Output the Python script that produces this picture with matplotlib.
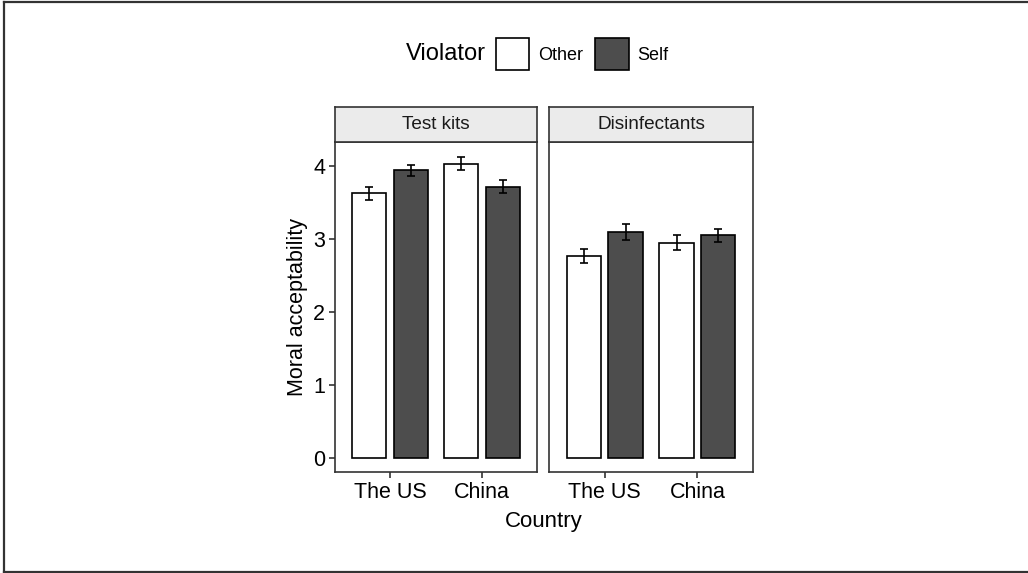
import matplotlib
matplotlib.use("Agg")
import matplotlib.pyplot as plt
from matplotlib.patches import Patch
from matplotlib.lines import Line2D
import numpy as np

plt.rcParams['font.family'] = ['Liberation Sans', 'DejaVu Sans']

# data
countries = ["The US", "China"]
products = ["Test kits", "Disinfectants"]
violators = ["Other", "Self"]

# mean moral acceptability, per product: [US, China]
other_means = {"Test kits": [3.63, 4.03], "Disinfectants": [2.77, 2.95]}
self_means = {"Test kits": [3.94, 3.72], "Disinfectants": [3.10, 3.05]}
other_err = {"Test kits": [0.09, 0.09], "Disinfectants": [0.10, 0.10]}
self_err = {"Test kits": [0.08, 0.09], "Disinfectants": [0.11, 0.09]}

colors = {"Other": "white", "Self": "#4d4d4d"}
frame = "#333333"

W, H = 1028, 573
fig = plt.figure(figsize=(W / 100, H / 100), dpi=100)

def fx(px):
    return px / W

def fy(py):
    return 1 - py / H

panels = [(335, 537), (549, 753)]
top, bottom, strip_top = 142, 472, 107

x = np.arange(len(countries)) + 1
off, bw = 0.225, 0.37

for i, (prod, (x0, x1)) in enumerate(zip(products, panels)):
    ax = fig.add_axes([fx(x0), fy(bottom), fx(x1 - x0), fy(top) - fy(bottom)])
    for v, sign, means, errs in [("Other", -1, other_means, other_err),
                                 ("Self", 1, self_means, self_err)]:
        ax.bar(x + sign * off, means[prod], width=bw, color=colors[v],
               edgecolor="black", linewidth=1.2, zorder=2)
        ax.errorbar(x + sign * off, means[prod], yerr=errs[prod], fmt="none",
                    ecolor="black", elinewidth=1.2, capsize=3, capthick=1.2,
                    zorder=3)
    ax.set_xlim(0.4, 2.6)
    ax.set_ylim(-0.19, 4.33)
    ax.set_xticks(x)
    ax.set_xticklabels(countries, fontsize=15.5)
    ax.set_yticks([0, 1, 2, 3, 4])
    if i == 0:
        ax.set_yticklabels(["0", "1", "2", "3", "4"], fontsize=15.5)
        ax.set_ylabel("Moral acceptability", fontsize=15.5, labelpad=4)
    else:
        ax.tick_params(axis="y", left=False, labelleft=False)
    for s in ax.spines.values():
        s.set_color(frame)
        s.set_linewidth(1.2)
    ax.tick_params(colors=frame, length=4, width=1.2, labelcolor="black", pad=3)

    # facet strip
    sax = fig.add_axes([fx(x0), fy(top), fx(x1 - x0), fy(strip_top) - fy(top)])
    sax.set_facecolor("#ebebeb")
    sax.set_xticks([])
    sax.set_yticks([])
    for s in sax.spines.values():
        s.set_color(frame)
        s.set_linewidth(1.2)
    sax.text(0.5, 0.5, prod, ha="center", va="center", fontsize=13.7,
             color="#1a1a1a", transform=sax.transAxes)

fig.text(fx(544), fy(522), "Country", ha="center", va="center", fontsize=16)

# legend
fig.text(fx(446), fy(54), "Violator", ha="center", va="center", fontsize=17)
handles = [Patch(facecolor=colors[v], edgecolor="black", linewidth=1.2)
           for v in violators]
fig.legend(handles, violators, ncol=2, fontsize=13, frameon=False,
           handlelength=1.85, handleheight=2.4, handletextpad=0.5,
           columnspacing=0.65, loc="center left",
           bbox_to_anchor=(fx(496), fy(54)), borderaxespad=0, borderpad=0)

# outer frame (top, left, bottom)
for xs, ys in [((4, 1028), (1.5, 1.5)), ((4, 4), (1.5, 571.5)),
               ((4, 1028), (571.5, 571.5))]:
    fig.add_artist(Line2D([fx(a) for a in xs], [fy(b) for b in ys],
                          color="#333333", linewidth=1.6))

fig.savefig("out.png", dpi=100)
